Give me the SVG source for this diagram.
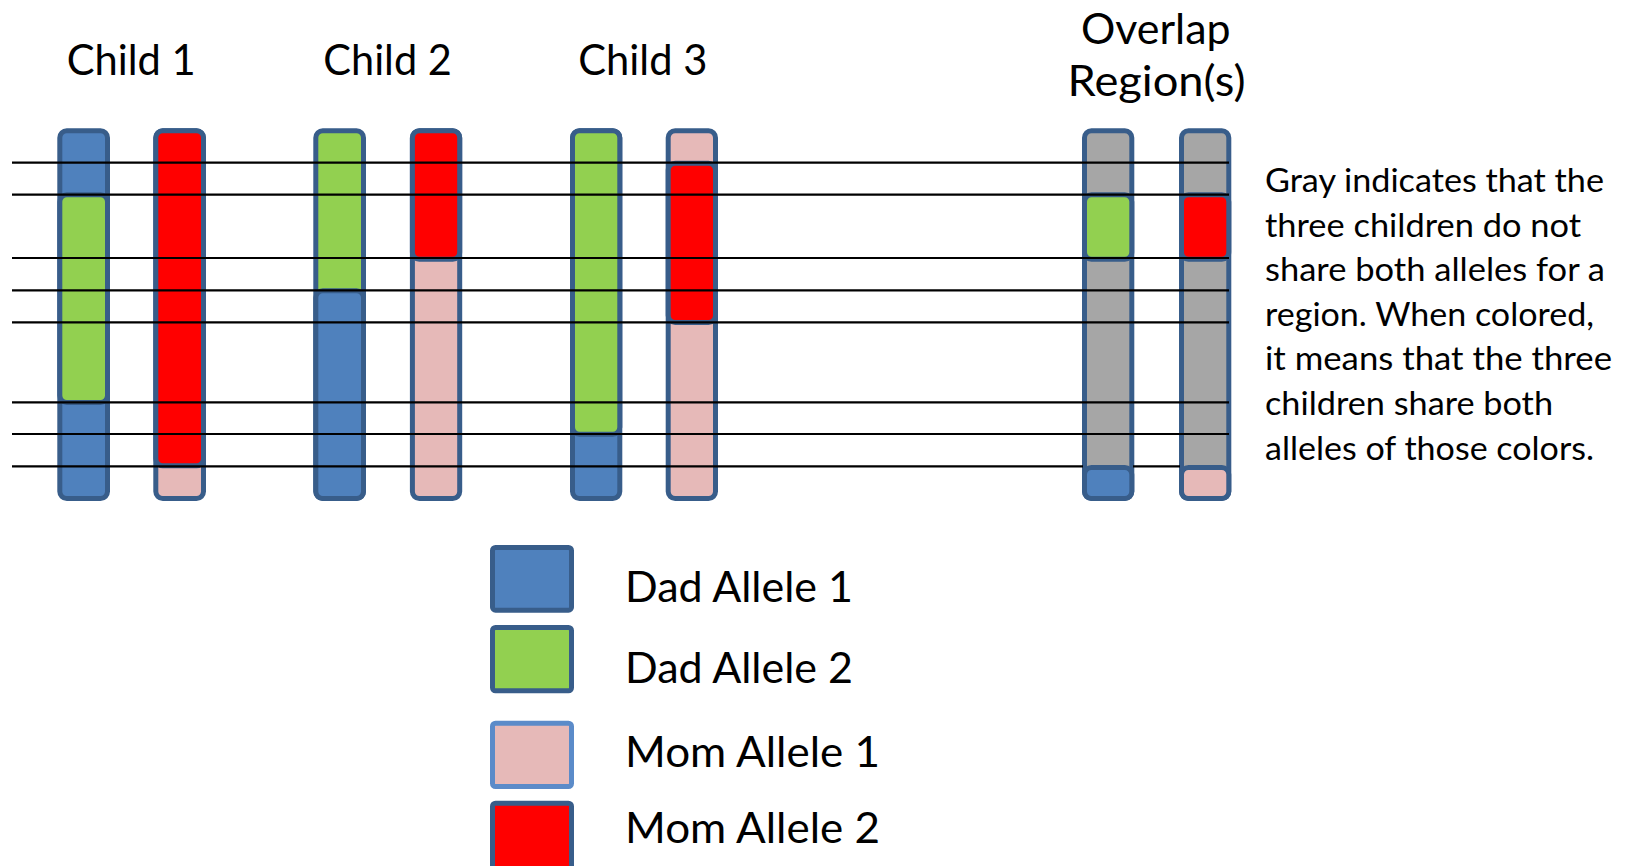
<svg xmlns="http://www.w3.org/2000/svg" width="1627" height="866" viewBox="0 0 1627 866">
  <style>
    .seg { stroke: #385D8A; stroke-width: 5; }
    .blue { fill: #4F81BD; }
    .green { fill: #92D050; }
    .pink { fill: #E6B9B8; }
    .red { fill: #FF0000; }
    .gray { fill: #A6A6A6; }
    .key { stroke-width: 5; }
    .locus { stroke: #000000; stroke-width: 2.2; fill: none; }
    text { font-family: Lato, "Open Sans", "Liberation Sans", sans-serif; fill: #000000; }
    .title { font-size: 43px; }
    .legend-label { font-size: 43px; }
    .note { font-size: 33px; }
  </style>

  <rect x="0" y="0" width="1627" height="866" fill="#FFFFFF"/>

  <!-- column headings -->
  <g id="headings">
    <text class="title" x="66.7" y="75" textLength="129" lengthAdjust="spacingAndGlyphs">Child 1</text>
    <text class="title" x="323.3" y="75" textLength="128.5" lengthAdjust="spacingAndGlyphs">Child 2</text>
    <text class="title" x="578.3" y="75" textLength="129" lengthAdjust="spacingAndGlyphs">Child 3</text>
    <text class="title" x="1081" y="43.5" textLength="149.6" lengthAdjust="spacingAndGlyphs">Overlap</text>
    <text class="title" x="1067.5" y="96" textLength="178" lengthAdjust="spacingAndGlyphs">Region(s)</text>
  </g>

  <!-- Child 1 chromosome pair -->
  <g id="child1-dad">
    <rect class="seg blue" x="59.8" y="130.8" width="47.7" height="367.7" rx="7"/>
    <rect class="seg green" x="59.8" y="194.8" width="47.7" height="207.7" rx="7"/>
  </g>
  <g id="child1-mom">
    <rect class="seg pink" x="155.8" y="130.8" width="47.7" height="367.7" rx="7"/>
    <rect class="seg red" x="155.8" y="130.8" width="47.7" height="335" rx="7"/>
  </g>

  <!-- Child 2 chromosome pair -->
  <g id="child2-dad">
    <rect class="seg green" x="315.8" y="130.8" width="47.7" height="367.7" rx="7"/>
    <rect class="seg blue" x="315.8" y="290.8" width="47.7" height="207.7" rx="7"/>
  </g>
  <g id="child2-mom">
    <rect class="seg pink" x="412.4" y="130.8" width="47.3" height="367.7" rx="7"/>
    <rect class="seg red" x="412.4" y="130.8" width="47.3" height="128.4" rx="7"/>
  </g>

  <!-- Child 3 chromosome pair -->
  <g id="child3-dad">
    <rect class="seg blue" x="572.5" y="130.8" width="47.3" height="367.7" rx="7"/>
    <rect class="seg green" x="572.5" y="130.8" width="47.3" height="303.4" rx="7"/>
  </g>
  <g id="child3-mom">
    <rect class="seg pink" x="668.2" y="130.8" width="47.3" height="367.7" rx="7"/>
    <rect class="seg red" x="668.2" y="163.2" width="47.3" height="159.3" rx="7"/>
  </g>

  <!-- shared (overlap) chromosome pair -->
  <g id="overlap-dad">
    <rect class="seg gray" x="1084.5" y="130.8" width="47.3" height="367.7" rx="7"/>
    <rect class="seg green" x="1084.5" y="194.8" width="47.3" height="64.4" rx="7"/>
    <rect class="seg blue" x="1084.5" y="467.5" width="47.3" height="31" rx="7"/>
  </g>
  <g id="overlap-mom">
    <rect class="seg gray" x="1181.5" y="130.8" width="47.3" height="367.7" rx="7"/>
    <rect class="seg red" x="1181.5" y="194.8" width="47.3" height="64.4" rx="7"/>
    <rect class="seg pink" x="1181.5" y="467.5" width="47.3" height="31" rx="7"/>
  </g>

  <!-- breakpoint lines across all chromosomes -->
  <g id="connectors">
    <line class="locus" x1="12" y1="162.7" x2="1229" y2="162.7"/>
    <line class="locus" x1="12" y1="194.7" x2="1229" y2="194.7"/>
    <line class="locus" x1="12" y1="258" x2="1229" y2="258"/>
    <line class="locus" x1="12" y1="290.3" x2="1229" y2="290.3"/>
    <line class="locus" x1="12" y1="322.3" x2="1229" y2="322.3"/>
    <line class="locus" x1="12" y1="402.3" x2="1229" y2="402.3"/>
    <line class="locus" x1="12" y1="434" x2="1229" y2="434"/>
    <line class="locus" x1="12" y1="466.3" x2="1083" y2="466.3"/>
    <line class="locus" x1="1133" y1="466.3" x2="1180" y2="466.3"/>
  </g>

  <!-- explanatory note -->
  <g id="note">
    <text class="note" x="1265" y="192" textLength="339" lengthAdjust="spacingAndGlyphs">Gray indicates that the</text>
    <text class="note" x="1265" y="236.6" textLength="316" lengthAdjust="spacingAndGlyphs">three children do not</text>
    <text class="note" x="1265" y="281.2" textLength="340" lengthAdjust="spacingAndGlyphs">share both alleles for a</text>
    <text class="note" x="1265" y="325.8" textLength="329" lengthAdjust="spacingAndGlyphs">region. When colored,</text>
    <text class="note" x="1265" y="370.4" textLength="347" lengthAdjust="spacingAndGlyphs">it means that the three</text>
    <text class="note" x="1265" y="415" textLength="288" lengthAdjust="spacingAndGlyphs">children share both</text>
    <text class="note" x="1265" y="459.6" textLength="329" lengthAdjust="spacingAndGlyphs">alleles of those colors.</text>
  </g>

  <!-- colour key -->
  <g id="legend-dad1">
    <rect class="key blue" x="492.5" y="547.5" width="79" height="62.7" rx="3" stroke="#385D8A"/>
    <text class="legend-label" x="625" y="601.7" textLength="228" lengthAdjust="spacingAndGlyphs">Dad Allele 1</text>
  </g>
  <g id="legend-dad2">
    <rect class="key green" x="492.5" y="627.5" width="79" height="63.3" rx="3" stroke="#385D8A"/>
    <text class="legend-label" x="625" y="683.3" textLength="228" lengthAdjust="spacingAndGlyphs">Dad Allele 2</text>
  </g>
  <g id="legend-mom1">
    <rect class="key pink" x="492.5" y="723.2" width="79" height="63.3" rx="3" stroke="#5B8BC9"/>
    <text class="legend-label" x="625" y="767.3" textLength="255" lengthAdjust="spacingAndGlyphs">Mom Allele 1</text>
  </g>
  <g id="legend-mom2">
    <rect class="key red" x="492.5" y="803.2" width="79" height="75" rx="3" stroke="#385D8A"/>
    <text class="legend-label" x="625" y="843.3" textLength="255" lengthAdjust="spacingAndGlyphs">Mom Allele 2</text>
  </g>
</svg>
